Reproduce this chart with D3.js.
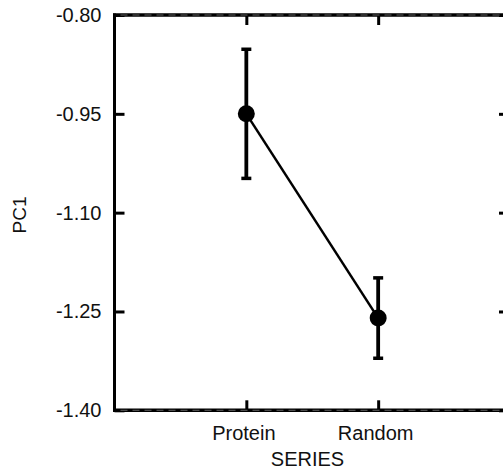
<!DOCTYPE html>
<html>
<head>
<meta charset="utf-8">
<script src="https://cdn.jsdelivr.net/npm/d3@7"></script>
<style>
  body { margin: 0; background: white; }
  svg { display: block; }
  svg text { font-family: "Liberation Sans", Arial, sans-serif; }
</style>
</head>
<body>
<div id="chart"></div>
<script>
const categories = ["Protein", "Random"];
const means = [-0.950, -1.260];
const errors = [0.098, 0.061];
const yTicks = [-0.80, -0.95, -1.10, -1.25, -1.40];

const width = 503, height = 472;
const plotLeft = 114.5, plotRight = 510, plotTop = 15, plotBottom = 410.3;

const svg = d3.select("#chart").append("svg")
    .attr("width", width)
    .attr("height", height);

const x = d3.scaleLinear().domain([0, 3]).range([plotLeft, plotRight]);
const y = d3.scaleLinear().domain([-1.40, -0.80]).range([plotBottom, plotTop]);

const points = categories.map((c, i) => ({ key: c, pos: i + 1, mean: means[i], err: errors[i] }));

// plain hyphen instead of d3's unicode minus
const fmt = d => d.toFixed(2);

// axes with inward ticks
const styleAxis = g => {
    g.attr("font-family", null);
    g.select(".domain").remove();
    g.selectAll("line").attr("stroke", "black").attr("stroke-width", 3);
    g.selectAll("text").attr("fill", "#111").style("font-size", "20px");
};

svg.append("g")
    .attr("transform", `translate(${plotLeft},0)`)
    .call(d3.axisLeft(y).tickValues(yTicks).tickSize(-10).tickPadding(13).tickFormat(fmt))
    .call(styleAxis);

svg.append("g")
    .attr("transform", `translate(${plotRight},0)`)
    .call(d3.axisRight(y).tickValues(yTicks).tickSize(-11).tickFormat(""))
    .call(styleAxis);

svg.append("g")
    .attr("transform", `translate(0,${plotBottom})`)
    .call(d3.axisBottom(x).tickValues([1, 2]).tickSize(-10).tickPadding(15.5).tickFormat(d => categories[d - 1]))
    .call(styleAxis)
    .selectAll("text").attr("dx", "-3");

svg.append("g")
    .attr("transform", `translate(0,${plotTop})`)
    .call(d3.axisTop(x).tickValues([1, 2]).tickSize(-10).tickFormat(""))
    .call(styleAxis);

// frame
svg.append("line")
    .attr("x1", plotLeft).attr("x2", plotLeft).attr("y1", plotTop - 1.5).attr("y2", plotBottom + 1.5)
    .attr("stroke", "black").attr("stroke-width", 3);

[plotTop, plotBottom].forEach(yy => {
    svg.append("line")
        .attr("x1", plotLeft - 1.5).attr("x2", width).attr("y1", yy).attr("y2", yy)
        .attr("stroke", "black").attr("stroke-width", 3.5);
    svg.append("line")
        .attr("x1", plotLeft + 6).attr("x2", width).attr("y1", yy).attr("y2", yy)
        .attr("stroke", "#777").attr("stroke-width", 0.8)
        .attr("stroke-dasharray", "7,5");
});

// connecting line
svg.append("path")
    .datum(points)
    .attr("fill", "none")
    .attr("stroke", "black")
    .attr("stroke-width", 2.5)
    .attr("d", d3.line().x(d => x(d.pos)).y(d => y(d.mean)));

// error bars
const bars = svg.append("g").selectAll("g").data(points).join("g");

bars.append("line")
    .attr("x1", d => x(d.pos)).attr("x2", d => x(d.pos))
    .attr("y1", d => y(d.mean + d.err)).attr("y2", d => y(d.mean - d.err))
    .attr("stroke", "black").attr("stroke-width", 3.8);

bars.selectAll(".cap")
    .data(d => [d.mean + d.err, d.mean - d.err].map(v => ({ pos: d.pos, v })))
    .join("line")
    .attr("class", "cap")
    .attr("x1", d => x(d.pos) - 5).attr("x2", d => x(d.pos) + 5)
    .attr("y1", d => y(d.v)).attr("y2", d => y(d.v))
    .attr("stroke", "black").attr("stroke-width", 3.5);

bars.append("circle")
    .attr("cx", d => x(d.pos))
    .attr("cy", d => y(d.mean))
    .attr("r", 8.5)
    .attr("fill", "black");

// axis titles
svg.append("text")
    .attr("x", 307.5)
    .attr("y", 465.5)
    .attr("text-anchor", "middle")
    .style("font-size", "20px")
    .attr("fill", "#111")
    .text("SERIES");

svg.append("text")
    .attr("transform", "translate(26,215) rotate(-90)")
    .attr("text-anchor", "middle")
    .style("font-size", "19px")
    .attr("fill", "#111")
    .text("PC1");
</script>
</body>
</html>
